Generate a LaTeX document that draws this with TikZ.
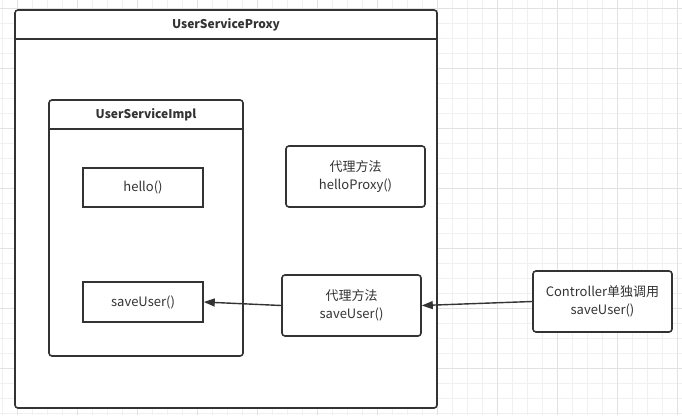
\documentclass[tikz,border=0pt]{standalone}
\usepackage{fontspec}
\setmainfont{Noto Sans CJK SC}
\usepackage{tikz}
\usetikzlibrary{arrows.meta,positioning}
\definecolor{ink}{HTML}{333333}
\definecolor{gridminor}{HTML}{F0F0F0}
\definecolor{gridmajor}{HTML}{E2E2E2}

\tikzset{
	box/.style={draw=ink, line width=1.6pt, fill=white, text=ink, align=center, font=\fontsize{13}{18}\selectfont, inner sep=0pt},
	roundbox/.style={box, rounded corners=3pt},
	heading/.style={text=ink, font=\fontsize{12}{14}\selectfont\bfseries},
	call/.style={draw=ink, line width=1.4pt, -{Triangle[length=11pt,width=8pt]}}
}

\begin{document}
\begin{tikzpicture}[x=1pt, y=-1pt]
	\useasboundingbox (0,0) rectangle (682,415);
	% background grid
	\foreach \x in {2,17,...,677} \draw[gridminor, line width=0.8pt] (\x,0) -- (\x,415);
	\foreach \y in {8,23,...,413} \draw[gridminor, line width=0.8pt] (0,\y) -- (682,\y);
	\foreach \x in {17,77,...,677} \draw[gridmajor, line width=0.9pt] (\x,0) -- (\x,415);
	\foreach \y in {8,68,...,368} \draw[gridmajor, line width=0.9pt] (0,\y) -- (682,\y);

	% proxy class
	\node[roundbox, minimum width=422pt, minimum height=398pt] (proxy) at (226,209) {};
	\draw[draw=ink, line width=1.6pt] ([yshift=-30pt]proxy.north west) -- ([yshift=-30pt]proxy.north east);
	\node[heading] (proxytitle) at (226,25) {UserServiceProxy};

	% target class
	\node[roundbox, minimum width=194pt, minimum height=256pt] (impl) at (146,228) {};
	\draw[draw=ink, line width=1.6pt] ([yshift=-30pt]impl.north west) -- ([yshift=-30pt]impl.north east);
	\node[heading] (impltitle) at (146,115) {UserServiceImpl};

	\node[box, minimum width=120pt, minimum height=39pt] (hello) at (143,187.5) {hello()};
	\node[box, minimum width=120pt, minimum height=40pt] (save) at (143,302) {saveUser()};

	% proxy methods
	\node[roundbox, minimum width=139pt, minimum height=61pt] (helloproxy) at (355.5,176.5) {代理方法\\helloProxy()};
	\node[roundbox, minimum width=139pt, minimum height=61pt] (saveproxy) at (351.5,305.5) {代理方法\\saveUser()};

	% caller
	\node[roundbox, minimum width=139pt, minimum height=61pt] (ctrl) at (602.5,301.5) {Controller单独调用\\saveUser()};

	\draw[call] (ctrl.west) -- (saveproxy.east);
	\draw[call] (saveproxy.west) -- (save.east);
\end{tikzpicture}
\end{document}
